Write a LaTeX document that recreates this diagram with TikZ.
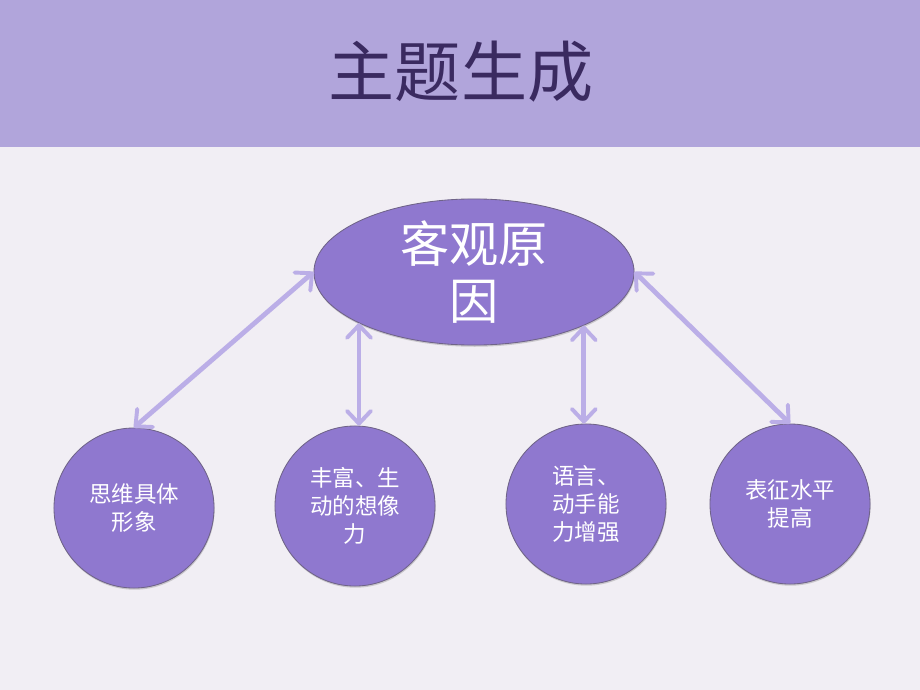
\documentclass[tikz,border=0pt]{standalone}
\usepackage{fontspec}
\setmainfont{Noto Sans CJK SC}
\usepackage{tikz}
\usetikzlibrary{shapes.geometric,arrows.meta,shadows}
\definecolor{bandc}{HTML}{B1A5DB}
\definecolor{paper}{HTML}{F1EEF4}
\definecolor{titlec}{HTML}{3A2A60}
\definecolor{bubc}{HTML}{8F78CF}
\definecolor{edgec}{HTML}{6F6388}
\definecolor{arrc}{HTML}{BBAEE7}

\begin{document}
\begin{tikzpicture}[
		x=0.025cm, y=-0.025cm
		,bub/.style={circle, draw=edgec, line width=0.6pt, fill=bubc, minimum size=4cm, inner sep=0pt,
			text=white, align=center, font=\fontsize{16}{20}\selectfont,
			drop shadow={opacity=0.35, shadow xshift=0.4pt, shadow yshift=-1.2pt}}
		,oval/.style={ellipse, draw=edgec, line width=0.6pt, fill=bubc, minimum width=8cm, minimum height=3.65cm,
			inner sep=0pt, text=white, align=center, font=\fontsize{35}{41}\selectfont,
			drop shadow={opacity=0.35, shadow xshift=0.4pt, shadow yshift=-1.2pt}}
		,dbl/.style={arrc, line width=3.4pt, line cap=round,
			{Straight Barb[length=9pt,width=17pt,line width=2.8pt,round]}-{Straight Barb[length=9pt,width=17pt,line width=2.8pt,round]}}
	]
		\useasboundingbox (0,0) rectangle (920,690);
		\fill [paper] (0,0) rectangle (920,690);
		\fill [bandc] (0,0) rectangle (920,147);
		\node [text=titlec, font=\fontsize{47}{50}\selectfont] (title) at (461,72) {主题生成};

		\node [oval] (e) at (474,272) {客观原\\因};

		\node [bub] (c1) at (134,508) {思维具体\\形象};
		\node [bub] (c2) at (355,506) {丰富、生\\动的想像\\力};
		\node [bub] (c3) at (586,504) {语言、\\动手能\\力增强};
		\node [bub] (c4) at (790,504) {表征水平\\提高};

		% links to the oval
		\draw [dbl] (e.west) -- (c1.north);
		\draw [dbl] (e.204) -- (e.204 |- c2.north);
		\draw [dbl] (e.334) -- (e.334 |- c3.north);
		\draw [dbl] (e.east) -- (c4.north);
	\end{tikzpicture}
\end{document}
